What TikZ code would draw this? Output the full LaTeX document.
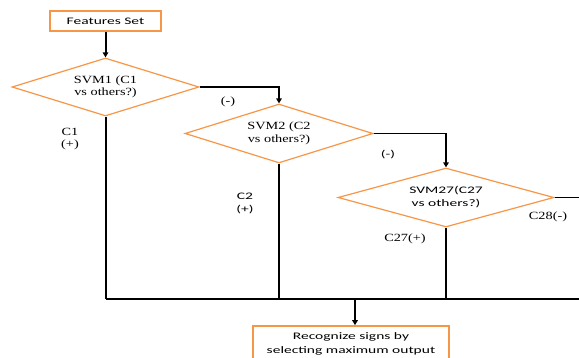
\documentclass[tikz,border=0pt]{standalone}
\usepackage{fontspec}
\usepackage{graphicx}
\setmainfont{Liberation Serif}
\newfontfamily\calib{Carlito}
\usetikzlibrary{shapes.geometric,arrows.meta}
\definecolor{orng}{HTML}{F79646}
\newcommand\wS[1]{\scalebox{1.3}[1]{#1}}
\newcommand\wC[1]{\scalebox{1.55}[1]{#1}}
\begin{document}
\begin{tikzpicture}[x=1pt,y=-1pt,
  box/.style={draw=orng, line width=1.6pt, rectangle, inner sep=0pt, align=center,
    font=\calib\fontsize{10}{14}\selectfont},
  dia/.style={draw=orng, line width=1.2pt, diamond, aspect=3.2, inner sep=0pt, align=center},
  sertext/.style={font=\fontsize{11}{12.5}\selectfont},
  sanstext/.style={font=\calib\fontsize{10}{13}\selectfont},
  lbl/.style={inner sep=0pt, align=center},
  wire/.style={line width=2pt},
  busline/.style={line width=1.4pt},
  arr/.style={-{Triangle[width=5.5pt,length=5pt]}, line width=1.6pt}]
\clip (0,0) rectangle (579,358);

% boxes
\node[box, minimum width=111pt, minimum height=20pt] (fs) at (105.5,21) {\wC{Features Set}};
\node[box, minimum width=196pt, minimum height=36pt] (rec) at (351,344)
  {\wC{Recognize signs by}\\\wC{selecting maximum output}};

% decisions
\node[dia, sertext, minimum width=187pt, minimum height=58pt] (svm1) at (105.5,87)
  {\wS{SVM1 (C1}\\\wS{vs others?)}};
\node[dia, sertext, minimum width=188pt, minimum height=59pt] (svm2) at (279,133.5)
  {\wS{SVM2 (C2}\\\wS{vs others?)}};
\node[dia, sanstext, minimum width=216pt, minimum height=59pt] (svm27) at (446,197.5)
  {\wC{SVM27(C27}\\\wC{vs others?)}};

% labels
\node[lbl, sertext] (l1m) at (228,102) {\wS{(-)}};
\node[lbl, sanstext] (l2m) at (388,155) {\wC{(-)}};
\node[lbl, sertext] (l1p) at (70,139) {\wS{C1}\\\wS{(+)}};
\node[lbl, sanstext] (l2p) at (245,203) {\wC{C2}\\\wC{(+)}};
\node[lbl, sertext] (l27) at (405,239) {\wS{C27(+)}};
\node[lbl, sertext] (l28) at (548,217) {\wS{C28(-)}};

% coordinates
\coordinate (bus) at (355,299);
\coordinate (rend) at (582,299);

% connectors
\draw[arr, line width=2pt] (fs.south) -- (svm1.north);
\draw[arr] (svm1.east) -| (svm2.north);
\draw[arr] (svm2.east) -| (svm27.north);
\draw[line width=1.6pt] (svm27.east) -- (svm27.east -| rend);
\draw[wire] (svm1.south) -- (svm1.south |- bus);
\draw[wire] (svm2.south) -- (svm2.south |- bus);
\draw[wire] (svm27.south) -- (svm27.south |- bus);
\draw[busline] (svm1.south |- bus) -- (rend);
\draw[arr] (bus) -- (bus |- rec.north);
\end{tikzpicture}
\end{document}
